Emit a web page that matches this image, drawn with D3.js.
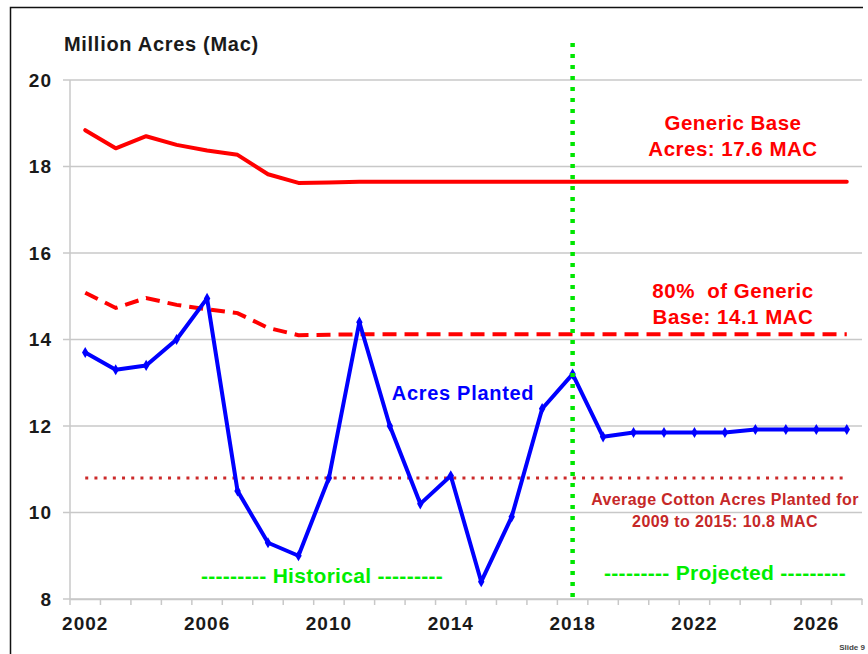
<!DOCTYPE html>
<html>
<head>
<meta charset="utf-8">
<script src="https://cdn.jsdelivr.net/npm/d3@7"></script>
<style>
  body { margin: 0; background: #fff; }
  svg text { font-family: "Liberation Sans", Arial, sans-serif; font-weight: bold; white-space: pre; }
</style>
</head>
<body>
<div id="chart"></div>
<script>
const years = d3.range(2002, 2028);
const yearLabels = [2002, 2006, 2010, 2014, 2018, 2022, 2026];
const yTicks = [8, 10, 12, 14, 16, 18, 20];

const planted = [13.7, 13.3, 13.4, 14.0, 14.95, 10.5, 9.3, 9.0, 10.8, 14.4, 12.0, 10.2, 10.85,
  8.4, 9.9, 12.4, 13.2, 11.75, 11.85, 11.85, 11.85, 11.85, 11.92, 11.92, 11.92, 11.92];
const genericBase = [18.84, 18.42, 18.7, 18.5, 18.37, 18.27, 17.82, 17.62, 17.63, 17.65, 17.65,
  17.65, 17.65, 17.65, 17.65, 17.65, 17.65, 17.65, 17.65, 17.65, 17.65, 17.65, 17.65, 17.65, 17.65, 17.65];
const base80 = [15.08, 14.73, 14.96, 14.8, 14.7, 14.61, 14.27, 14.1, 14.11, 14.12, 14.12,
  14.12, 14.12, 14.12, 14.12, 14.12, 14.12, 14.12, 14.12, 14.12, 14.12, 14.12, 14.12, 14.12, 14.12, 14.12];
const avgPlanted = 10.8;
const splitYear = 2018;

const W = 868, H = 654;
const plotL = 70, plotR = 862, plotT = 80, plotB = 599;

const svg = d3.select('#chart').append('svg')
  .attr('width', W)
  .attr('height', H);

// frame
svg.append('path')
  .attr('d', 'M10.5,' + (H + 5) + ' L10.5,7.5 L863,7.5')
  .attr('fill', 'none')
  .attr('stroke', '#111')
  .attr('stroke-width', 1.5);

const x = d3.scaleBand().domain(years).range([plotL, plotR]);
const xc = d => x(d) + x.bandwidth() / 2;
const y = d3.scaleLinear().domain([8, 20]).range([plotB, plotT]);

// gridlines
svg.append('g')
  .selectAll('line')
  .data(yTicks)
  .enter()
  .append('line')
  .attr('x1', plotL - 7)
  .attr('x2', plotR)
  .attr('y1', d => y(d))
  .attr('y2', d => y(d))
  .attr('stroke', '#c8c8c8')
  .attr('stroke-width', 1.5);

// y axis line
svg.append('line')
  .attr('x1', plotL).attr('x2', plotL)
  .attr('y1', plotT).attr('y2', plotB)
  .attr('stroke', '#c8c8c8')
  .attr('stroke-width', 1.5);

// x axis
const xAxis = d3.axisBottom(x)
  .tickValues(yearLabels)
  .tickSize(0)
  .tickPadding(18);
const gx = svg.append('g')
  .attr('transform', 'translate(0,' + plotB + ')')
  .call(xAxis);
gx.select('.domain').attr('stroke', '#c8c8c8').attr('stroke-width', 1.5);
gx.selectAll('text')
  .attr('font-size', 19)
  .attr('letter-spacing', 1)
  .attr('fill', '#1a1a1a');

// band boundary ticks
svg.append('g')
  .selectAll('line')
  .data(years.concat([2028]))
  .enter()
  .append('line')
  .attr('x1', d => d === 2028 ? plotR : x(d))
  .attr('x2', d => d === 2028 ? plotR : x(d))
  .attr('y1', plotB)
  .attr('y2', plotB + 6)
  .attr('stroke', '#c8c8c8')
  .attr('stroke-width', 1.5);

// y labels
const yAxis = d3.axisLeft(y).tickValues(yTicks).tickSize(0).tickPadding(18);
const gy = svg.append('g')
  .attr('transform', 'translate(' + plotL + ',0)')
  .call(yAxis);
gy.select('.domain').remove();
gy.selectAll('text')
  .attr('font-size', 19)
  .attr('letter-spacing', 1)
  .attr('fill', '#1a1a1a');

svg.append('text')
  .attr('x', 64)
  .attr('y', 51)
  .attr('font-size', 20)
  .attr('letter-spacing', 0.7)
  .attr('fill', '#1a1a1a')
  .text('Million Acres (Mac)');

const line = d3.line()
  .x((d, i) => xc(years[i]))
  .y(d => y(d));

// average line
svg.append('line')
  .attr('x1', xc(2002))
  .attr('x2', xc(2027))
  .attr('y1', y(avgPlanted))
  .attr('y2', y(avgPlanted))
  .attr('stroke', '#cc2a2a')
  .attr('stroke-width', 3)
  .attr('stroke-dasharray', '3,6.2');

svg.append('path')
  .datum(genericBase)
  .attr('d', line)
  .attr('fill', 'none')
  .attr('stroke', '#ff0000')
  .attr('stroke-width', 4)
  .attr('stroke-linejoin', 'round')
  .attr('stroke-linecap', 'round');

svg.append('path')
  .datum(base80)
  .attr('d', line)
  .attr('fill', 'none')
  .attr('stroke', '#ff0000')
  .attr('stroke-width', 4)
  .attr('stroke-dasharray', '14,8');

svg.append('path')
  .datum(planted)
  .attr('d', line)
  .attr('fill', 'none')
  .attr('stroke', '#0000ff')
  .attr('stroke-width', 4)
  .attr('stroke-linejoin', 'round');

svg.append('g')
  .selectAll('path')
  .data(planted)
  .enter()
  .append('path')
  .attr('d', d3.symbol().type(d3.symbolDiamond).size(36))
  .attr('transform', (d, i) => 'translate(' + xc(years[i]) + ',' + y(d) + ')')
  .attr('fill', '#0000ff');

// projection divider
svg.append('line')
  .attr('x1', xc(splitYear))
  .attr('x2', xc(splitYear))
  .attr('y1', 43)
  .attr('y2', plotB)
  .attr('stroke', '#00e600')
  .attr('stroke-width', 4.5)
  .attr('stroke-dasharray', '4,7');

// annotations
function label(lines, cx, ys, color, size, spacing) {
  lines.forEach((t, i) => {
    svg.append('text')
      .attr('x', cx)
      .attr('y', ys[i])
      .attr('text-anchor', 'middle')
      .attr('font-size', size)
      .attr('letter-spacing', spacing)
      .attr('fill', color)
      .text(t);
  });
}

label(['Generic Base', 'Acres: 17.6 MAC'], 733, [130, 156], '#ff0000', 20.5, 0.5);
label(['80%  of Generic', 'Base: 14.1 MAC'], 733, [298, 324], '#ff0000', 20.5, 0.5);
label(['Acres Planted'], 463, [400], '#0000ff', 20, 0.7);
label(['Average Cotton Acres Planted for', '2009 to 2015: 10.8 MAC'], 725, [505, 527], '#c62828', 16, 0.4);
label(['--------- Historical ---------'], 322, [583], '#00ee00', 21, 0.3);
label(['--------- Projected ---------'], 725, [580], '#00ee00', 21, 0.3);

svg.append('text')
  .attr('x', 865)
  .attr('y', 650)
  .attr('text-anchor', 'end')
  .attr('font-size', 8)
  .attr('font-weight', 'normal')
  .attr('fill', '#444')
  .text('Slide 9');
</script>
</body>
</html>
